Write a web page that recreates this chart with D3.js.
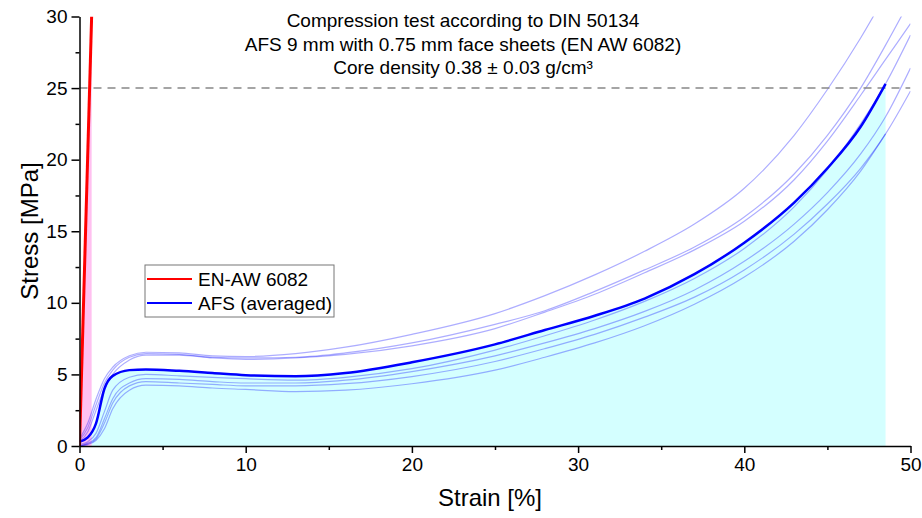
<!DOCTYPE html>
<html>
<head>
<meta charset="utf-8">
<script src="https://cdn.jsdelivr.net/npm/d3@7.9.0/dist/d3.min.js"></script>
<style>
  body { margin: 0; background: #fff; }
  svg text { font-family: "Liberation Sans", Arial, sans-serif; fill: #000; }
</style>
</head>
<body>
<svg id="chart" width="922" height="518"></svg>
<script>
// strain grid shared by the AFS curves [%]
const strain = [0, 0.5, 1, 1.5, 2, 3, 4, 6, 8, 10, 13, 16, 20, 25, 28, 31, 34, 37, 40, 43, 45, 47, 48.5, 50];

// averaged AFS curve [MPa]
const stressAvg = [0.3, 0.6, 1.6, 4.0, 4.9, 5.3, 5.35, 5.25, 5.1, 4.95, 4.87, 5.1, 5.85, 7.1, 8.1, 9.1, 10.3, 12.0, 14.2, 17.0, 19.4, 22.3, 25.3, null];

// single specimens [MPa]
const stressS1 = [0.5, 1.6, 3.3, 4.7, 5.5, 6.3, 6.55, 6.5, 6.3, 6.25, 6.45, 6.9, 7.8, 9.25, 10.5, 11.95, 13.6, 15.5, 18.0, 21.7, 24.9, 28.5, 31.5, 34.5];
const stressS2 = [0.4, 1.3, 2.9, 4.4, 5.3, 6.2, 6.45, 6.4, 6.2, 6.15, 6.2, 6.5, 7.2, 8.5, 9.45, 10.8, 12.3, 13.9, 16.0, 19.0, 21.7, 25.0, 28.0, 31.2];
const stressS3 = [0.3, 1.0, 2.5, 4.0, 5.0, 6.0, 6.35, 6.35, 6.15, 6.05, 6.15, 6.4, 7.0, 8.2, 9.35, 10.6, 12.1, 13.7, 15.7, 18.6, 21.3, 24.5, 27.0, 29.5];
const stressS4 = [0.1, 0.3, 0.9, 2.4, 3.9, 4.8, 5.0, 4.9, 4.8, 4.7, 4.6, 4.8, 5.4, 6.7, 7.7, 8.8, 10.1, 11.7, 13.8, 16.7, 19.3, 22.5, 25.3, 28.7];
const stressS5 = [0.0, 0.2, 0.6, 1.9, 3.3, 4.4, 4.7, 4.65, 4.5, 4.4, 4.4, 4.6, 5.2, 6.3, 7.2, 8.2, 9.4, 10.9, 12.9, 15.5, 17.7, 20.4, 23.0, 26.4];
const stressS6 = [0.0, 0.15, 0.5, 1.6, 3.0, 4.2, 4.5, 4.4, 4.3, 4.2, 4.2, 4.35, 4.85, 5.9, 6.8, 7.8, 9.0, 10.4, 12.3, 14.8, 16.9, 19.4, 21.8, 24.8];
const stressS7 = [0.0, 0.1, 0.4, 1.2, 2.6, 3.9, 4.25, 4.2, 4.05, 3.95, 3.8, 3.9, 4.35, 5.3, 6.2, 7.2, 8.4, 9.9, 11.8, 14.3, 16.5, 19.2, 21.8, null];

// EN-AW 6082 solid reference
const alStrain = [0, 0.73];
const alStress = [0, 30];

const xTicks = [0, 10, 20, 30, 40, 50];
const xMinor = [5, 15, 25, 35, 45];
const yTicks = [0, 5, 10, 15, 20, 25, 30];
const yMinor = [2.5, 7.5, 12.5, 17.5, 22.5, 27.5];
const limitStress = 25;

const titleLines = [
  'Compression test according to DIN 50134',
  'AFS 9 mm with 0.75 mm face sheets (EN AW 6082)',
  'Core density 0.38 \u00b1 0.03 g/cm\u00b3'
];
const legendItems = [
  { label: 'EN-AW 6082', color: '#ff0000' },
  { label: 'AFS (averaged)', color: '#0000ff' }
];

const svg = d3.select('#chart');
const x = d3.scaleLinear().domain([0, 50]).range([79.5, 910.5]);
const y = d3.scaleLinear().domain([0, 30]).range([446, 16.5]);

svg.append('defs').append('clipPath').attr('id', 'plot')
  .append('rect')
  .attr('x', x(0)).attr('y', y(30))
  .attr('width', x(50) - x(0)).attr('height', y(0) - y(30));

const toPoints = (xs, ys) => xs.map((s, i) => ({ s, v: ys[i] }));

const line = d3.line()
  .defined(d => d.v !== null)
  .x(d => x(d.s)).y(d => y(d.v))
  .curve(d3.curveMonotoneX);

const area = d3.area()
  .defined(d => d.v !== null)
  .x(d => x(d.s)).y0(y(0)).y1(d => y(d.v))
  .curve(d3.curveMonotoneX);

const plot = svg.append('g').attr('clip-path', 'url(#plot)');

// filled areas
plot.append('path')
  .attr('d', area(toPoints(strain, stressAvg)))
  .attr('fill', '#d4ffff');
plot.append('path')
  .attr('d', d3.area().x(d => x(d.s)).y0(y(0)).y1(d => y(d.v))(toPoints(alStrain, alStress)))
  .attr('fill', '#ffc0f0');

// single specimens
[stressS1, stressS2, stressS3, stressS4, stressS5, stressS6, stressS7].forEach(ys => {
  plot.append('path')
    .attr('d', line(toPoints(strain, ys)))
    .attr('fill', 'none')
    .attr('stroke', 'rgba(0,0,255,0.32)')
    .attr('stroke-width', 1.2);
});

// 25 MPa limit
plot.append('line')
  .attr('x1', x(0)).attr('x2', x(50))
  .attr('y1', y(limitStress)).attr('y2', y(limitStress))
  .attr('stroke', '#888').attr('stroke-width', 1.5)
  .attr('stroke-dasharray', '8,6');

plot.append('path')
  .attr('d', line(toPoints(strain, stressAvg)))
  .attr('fill', 'none')
  .attr('stroke', '#0000ff')
  .attr('stroke-width', 2.5);

plot.append('path')
  .attr('d', d3.line().x(d => x(d.s)).y(d => y(d.v))(toPoints(alStrain, alStress)))
  .attr('fill', 'none')
  .attr('stroke', '#ff0000')
  .attr('stroke-width', 3);

// axes
const styleAxis = g => {
  g.attr('font-size', null).attr('font-family', null);
  g.selectAll('.domain').attr('stroke', '#000').attr('stroke-width', 1.5);
  g.selectAll('.tick line').attr('stroke', '#000').attr('stroke-width', 1.5);
  g.selectAll('.tick text').style('font-size', '19px');
};

svg.append('g')
  .attr('transform', `translate(0,${y(0)})`)
  .call(d3.axisBottom(x).tickValues(xMinor).tickSize(4).tickFormat(''))
  .call(styleAxis)
  .call(g => g.select('.domain').remove());
svg.append('g')
  .attr('transform', `translate(${x(0)},0)`)
  .call(d3.axisLeft(y).tickValues(yMinor).tickSize(4).tickFormat(''))
  .call(styleAxis)
  .call(g => g.select('.domain').remove());

svg.append('g')
  .attr('transform', `translate(0,${y(0)})`)
  .call(d3.axisBottom(x).tickValues(xTicks).tickSize(7).tickSizeOuter(0).tickPadding(5).tickFormat(d3.format('d')))
  .call(styleAxis);
svg.append('g')
  .attr('transform', `translate(${x(0)},0)`)
  .call(d3.axisLeft(y).tickValues(yTicks).tickSize(8).tickSizeOuter(0).tickPadding(4).tickFormat(d3.format('d')))
  .call(styleAxis);

// axis titles
svg.append('text')
  .attr('x', 490).attr('y', 506)
  .attr('text-anchor', 'middle')
  .style('font-size', '24px')
  .text('Strain [%]');
svg.append('text')
  .attr('transform', 'translate(38,231) rotate(-90)')
  .attr('text-anchor', 'middle')
  .style('font-size', '24px')
  .text('Stress [MPa]');

// title
svg.append('g').selectAll('text')
  .data(titleLines)
  .join('text')
  .attr('x', 463)
  .attr('y', (d, i) => 27 + i * 23.5)
  .attr('text-anchor', 'middle')
  .style('font-size', '19px')
  .text(d => d);

// legend
const legend = svg.append('g').attr('transform', 'translate(145,265)');
legend.append('rect')
  .attr('width', 189).attr('height', 52)
  .attr('fill', '#fff').attr('stroke', '#777').attr('stroke-width', 1);
legendItems.forEach((d, i) => {
  legend.append('line')
    .attr('x1', 2).attr('x2', 47)
    .attr('y1', 14 + i * 24).attr('y2', 14 + i * 24)
    .attr('stroke', d.color).attr('stroke-width', 2);
  legend.append('text')
    .attr('x', 53).attr('y', 21 + i * 24)
    .style('font-size', '19px')
    .text(d.label);
});
</script>
</body>
</html>
